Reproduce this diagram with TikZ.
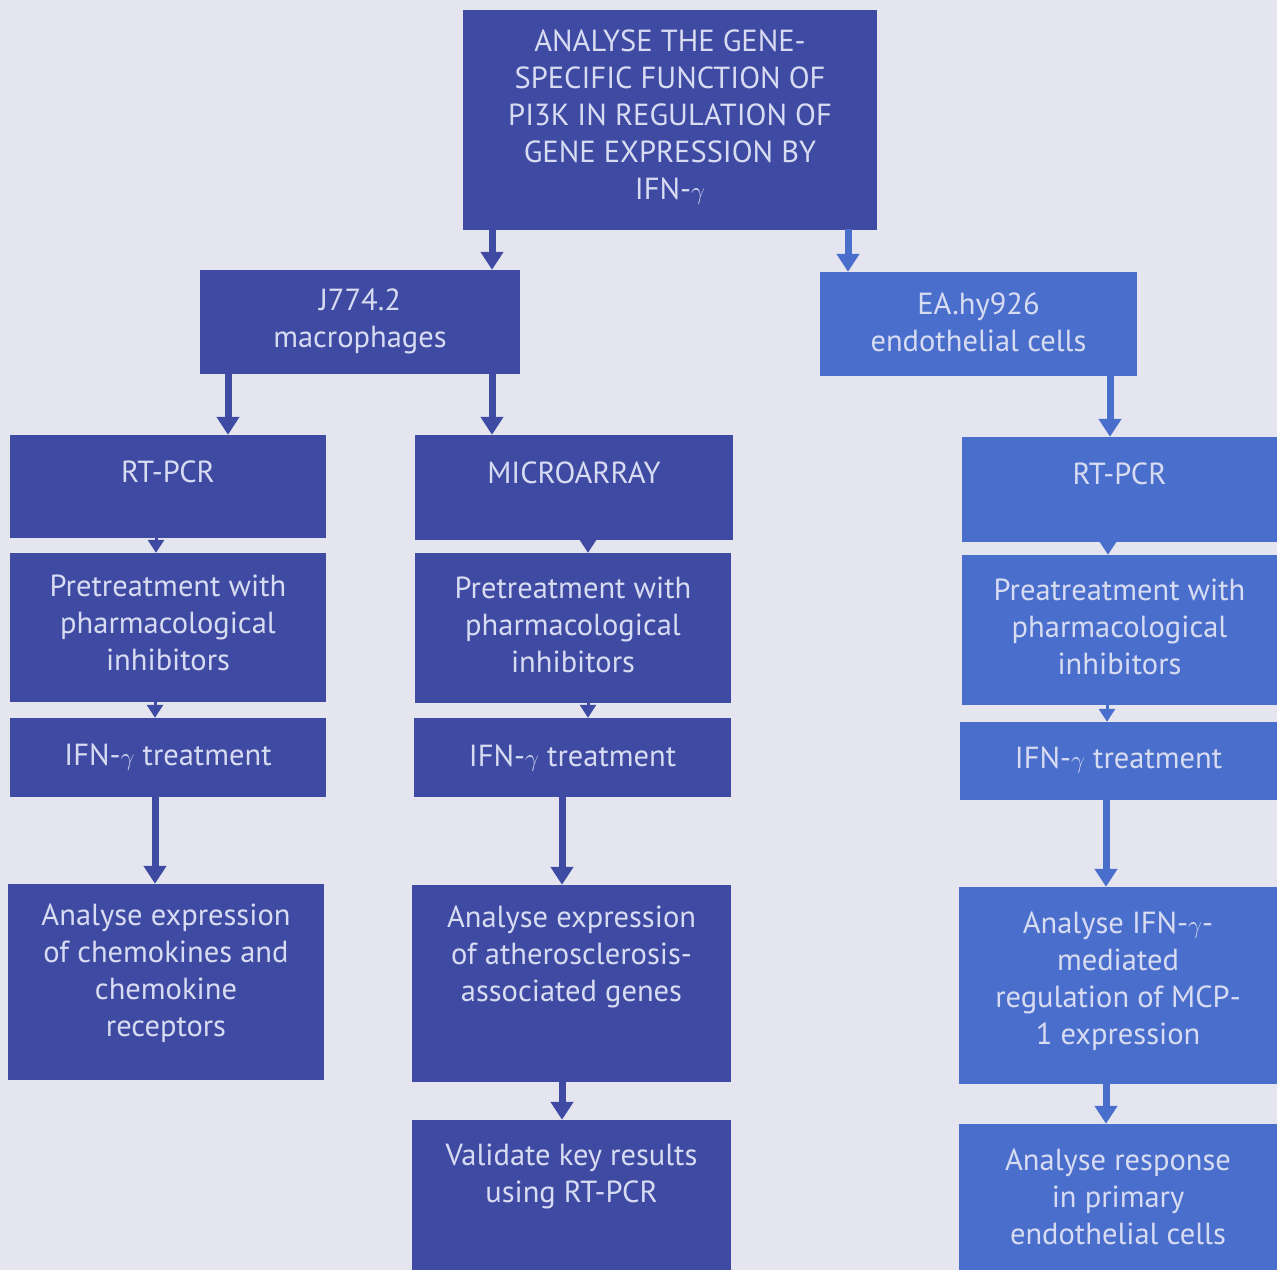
\documentclass[tikz,border=0pt]{standalone}
\usepackage{fontspec}
\setmainfont{PT Sans}
\usetikzlibrary{arrows.meta}
\definecolor{bg}{HTML}{E5E5EF}
\definecolor{dk}{HTML}{3F4AA2}
\definecolor{lt}{HTML}{4A6ECB}
\definecolor{tx}{HTML}{D8DCF2}
\tikzset{
  boxd/.style={rectangle, fill=dk, inner sep=0pt},
  boxl/.style={rectangle, fill=lt, inner sep=0pt},
  txt/.style={text=tx, align=center, inner sep=0pt, font=\fontsize{30.5}{37}\selectfont},
  arrd/.style={draw=dk, line width=7pt, -{Triangle[width=22pt,length=18pt]}, shorten <=-1pt},
  arrl/.style={draw=lt, line width=7pt, -{Triangle[width=22pt,length=18pt]}, shorten <=-1pt},
  sarrd/.style={draw=dk, line width=3pt, -{Triangle[width=16pt,length=13pt]}, shorten <=-1pt},
  sarrl/.style={draw=lt, line width=3pt, -{Triangle[width=16pt,length=13pt]}, shorten <=-1pt}
}
\begin{document}
\begin{tikzpicture}[x=1pt,y=-1pt]
\fill[bg] (0,0) rectangle (1277,1270);
\useasboundingbox (0,0) rectangle (1277,1270);
% boxes
\node[boxd, minimum width=414pt, minimum height=220pt] (top) at (670,120) {};
\node[boxd, minimum width=320pt, minimum height=104pt] (j) at (360,322) {};
\node[boxl, minimum width=317pt, minimum height=104pt] (ea) at (978.5,324) {};
\node[boxd, minimum width=316pt, minimum height=103pt] (rt1) at (168,486.5) {};
\node[boxd, minimum width=318pt, minimum height=105pt] (mic) at (574,487.5) {};
\node[boxl, minimum width=315pt, minimum height=105pt] (rt2) at (1119.5,489.5) {};
\node[boxd, minimum width=316pt, minimum height=149pt] (pre1) at (168,627.5) {};
\node[boxd, minimum width=316pt, minimum height=150pt] (pre2) at (573,628) {};
\node[boxl, minimum width=315pt, minimum height=150pt] (pre3) at (1119.5,630) {};
\node[boxd, minimum width=316pt, minimum height=79pt] (ifn1) at (168,757.5) {};
\node[boxd, minimum width=317pt, minimum height=79pt] (ifn2) at (572.5,757.5) {};
\node[boxl, minimum width=317pt, minimum height=78pt] (ifn3) at (1118.5,761) {};
\node[boxd, minimum width=316pt, minimum height=196pt] (an1) at (166,982) {};
\node[boxd, minimum width=319pt, minimum height=197pt] (an2) at (571.5,983.5) {};
\node[boxl, minimum width=318pt, minimum height=197pt] (an3) at (1118,985.5) {};
\node[boxd, minimum width=319pt, minimum height=150pt] (val) at (571.5,1195) {};
\node[boxl, minimum width=318pt, minimum height=146pt] (resp) at (1118,1197) {};
% texts
\node[txt] (ttop) at (670,117) {ANALYSE THE GENE-\\SPECIFIC FUNCTION OF\\PI3K IN REGULATION OF\\GENE EXPRESSION BY\\IFN-$\gamma$};
\node[txt] (tj) at (360,321) {J774.2\\macrophages};
\node[txt] (tea) at (978.5,322) {EA.hy926\\endothelial cells};
\node[txt] (trt1) at (168,472) {RT-PCR};
\node[txt] (tmic) at (574,473) {MICROARRAY};
\node[txt] (trt2) at (1119.5,474) {RT-PCR};
\node[txt] (tpre1) at (168,623) {Pretreatment with\\pharmacological\\inhibitors};
\node[txt] (tpre2) at (573,625) {Pretreatment with\\pharmacological\\inhibitors};
\node[txt] (tpre3) at (1119.5,627) {Preatreatment with\\pharmacological\\inhibitors};
\node[txt] (tifn1) at (168,757) {IFN-$\gamma$ treatment};
\node[txt] (tifn2) at (572.5,758) {IFN-$\gamma$ treatment};
\node[txt] (tifn3) at (1118.5,760) {IFN-$\gamma$ treatment};
\node[txt] (tan1) at (166,973) {Analyse expression\\of chemokines and\\chemokine\\receptors};
\node[txt] (tan2) at (571.5,957) {Analyse expression\\of atherosclerosis-\\associated genes};
\node[txt] (tan3) at (1118,981) {Analyse IFN-$\gamma$-\\mediated\\regulation of MCP-\\1 expression};
\node[txt] (tval) at (571.5,1176) {Validate key results\\using RT-PCR};
\node[txt] (tresp) at (1118,1197) {Analyse response\\in primary\\endothelial cells};
% arrows
\draw[arrd] ([xshift=-178pt]top.south) -- ([xshift=-178pt]top.south |- j.north);
\draw[arrl] ([xshift=178pt]top.south) -- ([xshift=178pt]top.south |- ea.north);
\draw[arrd] ([xshift=-132pt]j.south) -- ([xshift=-132pt]j.south |- rt1.north);
\draw[arrd] ([xshift=132pt]j.south) -- ([xshift=132pt]j.south |- mic.north);
\draw[arrl] ([xshift=131.5pt]ea.south) -- ([xshift=131.5pt]ea.south |- rt2.north);
\draw[sarrd] ([xshift=-12pt]rt1.south) -- ([xshift=-12pt]rt1.south |- pre1.north);
\draw[sarrd] ([xshift=-13pt]pre1.south) -- ([xshift=-13pt]pre1.south |- ifn1.north);
\draw[arrd] ([xshift=-13pt]ifn1.south) -- ([xshift=-13pt]ifn1.south |- an1.north);
\draw[sarrd] ([xshift=14pt]mic.south) -- ([xshift=14pt]mic.south |- pre2.north);
\draw[sarrd] ([xshift=15pt]pre2.south) -- ([xshift=15pt]pre2.south |- ifn2.north);
\draw[arrd] ([xshift=-10.5pt]ifn2.south) -- ([xshift=-10.5pt]ifn2.south |- an2.north);
\draw[arrd] ([xshift=-9.5pt]an2.south) -- ([xshift=-9.5pt]an2.south |- val.north);
\draw[sarrl] ([xshift=-11.5pt]rt2.south) -- ([xshift=-11.5pt]rt2.south |- pre3.north);
\draw[sarrl] ([xshift=-12.5pt]pre3.south) -- ([xshift=-12.5pt]pre3.south |- ifn3.north);
\draw[arrl] ([xshift=-12.5pt]ifn3.south) -- ([xshift=-12.5pt]ifn3.south |- an3.north);
\draw[arrl] ([xshift=-12pt]an3.south) -- ([xshift=-12pt]an3.south |- resp.north);
\end{tikzpicture}
\end{document}
